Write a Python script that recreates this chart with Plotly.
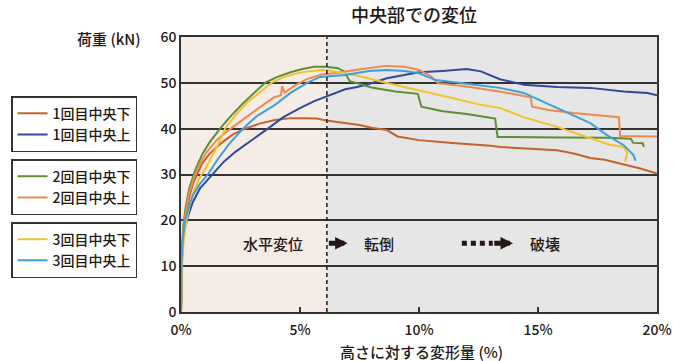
import plotly.graph_objects as go

# ---------------- data ----------------
names = ["1回目中央下", "1回目中央上", "2回目中央下", "2回目中央上", "3回目中央下", "3回目中央上"]
colors = ["#c4642c", "#2f4a9a", "#5a8f32", "#ec8b4f", "#f2c12e", "#3f9fd8"]

x1_lower = [0, 0.02, 0.05, 0.1, 0.2, 0.35, 0.5, 0.67, 0.9, 1.2, 1.5, 1.85, 2.2, 2.7, 3.3, 3.95, 4.6,
            5.2, 5.7, 6.1, 6.9, 7.5, 8.0, 8.65, 9.1, 10.0, 11.4, 12.0, 13.0, 13.4, 14.5, 15.8, 16.5,
            17.2, 17.8, 18.6, 19.3, 20.0]
y1_lower = [0, 8, 13, 17, 21, 25, 28, 30, 32.5, 34.5, 36, 37.5, 38.8, 40, 41.1, 41.9, 42.3,
            42.3, 42.2, 41.8, 41.2, 40.8, 40.2, 39.7, 38.3, 37.5, 36.9, 36.7, 36.3, 36.0, 35.7, 35.3, 34.6,
            33.6, 33.2, 32.2, 31.3, 30.2]

x1_upper = [0, 0.03, 0.08, 0.15, 0.3, 0.5, 0.8, 1.3, 1.8, 2.3, 3.0, 3.65, 4.3, 5.0, 5.6, 6.1, 6.9,
            7.4, 8.0, 8.65, 9.4, 10.0, 11.0, 12.0, 12.6, 13.0, 13.4, 14.4, 15.8, 17.2, 18.6, 19.6, 20.0]
y1_upper = [0, 10, 15, 18, 21, 24, 27, 30, 32.8, 35, 37.5, 40, 42.5, 44.5, 46, 47, 48.6,
            49.1, 49.9, 51, 51.7, 52.3, 52.6, 53.0, 52.5, 51.6, 50.8, 49.6, 49.1, 48.9, 48.1, 47.8, 47.3]

x2_lower = [0, 0.02, 0.05, 0.1, 0.2, 0.35, 0.6, 0.9, 1.2, 1.64, 2.1, 2.6, 3.0, 3.53, 4.0, 4.6, 5.1,
            5.6, 6.1, 6.6, 6.85, 7.1, 7.5, 8.0, 9.0, 9.95, 10.1, 11.0, 12.0, 13.2, 13.3, 14.0, 16.0,
            18.0, 18.9, 19.0, 19.4, 19.45]
y2_lower = [0, 9, 15, 19, 23, 27, 31, 34.5, 37, 40, 42.8, 45.5, 47.5, 50, 51.2, 52.3, 53,
            53.5, 53.5, 53.2, 52.5, 50.3, 49.8, 49.0, 48.1, 47.6, 44.8, 43.8, 43.2, 42.2, 38.2, 38.2, 38.1,
            38.0, 37.8, 36.9, 36.8, 36.0]

x2_upper = [0, 0.02, 0.05, 0.1, 0.2, 0.35, 0.55, 0.8, 1.1, 1.5, 1.9, 2.4, 2.9, 3.4, 3.9, 4.2, 4.25,
            4.35, 4.8, 5.3, 5.9, 6.6, 7.3, 8.6, 9.4, 10.0, 10.5, 10.8, 12.0, 13.0, 13.5, 14.5, 14.7,
            14.75, 15.5, 16.5, 17.5, 18.4, 18.45, 19.0, 20.0]
y2_upper = [0, 9, 14, 18, 22, 26, 29.5, 32.5, 35, 37.5, 39.3, 41.2, 43.2, 45, 46.8, 47.3, 49.3,
            47.8, 49.5, 50.8, 51.8, 52.2, 52.8, 53.7, 53.5, 52.8, 51.5, 49.9, 49.2, 48.5, 48.0, 47.0, 46.8,
            44.8, 44.0, 43.4, 43.0, 42.5, 38.4, 38.4, 38.3]

x3_lower = [0, 0.02, 0.05, 0.1, 0.2, 0.35, 0.55, 0.8, 1.0, 1.3, 1.6, 1.85, 2.3, 2.8, 3.3, 3.8, 4.3,
            4.8, 5.3, 5.9, 6.2, 7.3, 8.6, 10.0, 11.4, 12.5, 13.4, 14.4, 15.8, 17.2, 18.0, 18.6, 18.75,
            18.7, 18.65]
y3_lower = [0, 7, 11, 15, 19, 23, 26.5, 29.5, 31, 34, 37, 40, 43, 45.8, 48, 50, 51.2,
            52, 52.5, 52.8, 52.7, 51.7, 50, 48.4, 46.7, 45.3, 44.5, 42.5, 40.4, 37.9, 36.5, 36, 34.7,
            33.5, 32.8]

x3_upper = [0, 0.01, 0.03, 0.08, 0.15, 0.3, 0.5, 0.8, 1.13, 1.5, 2.0, 2.6, 3.2, 3.95, 4.6, 5.3, 5.84,
            6.9, 7.9, 8.65, 9.4, 10.0, 10.7, 11.4, 12.4, 13.4, 14.4, 15.8, 17.2, 17.9, 18.6, 19.0, 19.1]
y3_upper = [0, 5, 12, 16, 19.5, 22.5, 25.5, 28, 30, 33, 36.5, 40, 42.8, 45.2, 47.8, 50, 51.3,
            51.7, 52.6, 52.8, 52.6, 52.1, 50.6, 50.2, 49.6, 48.9, 47.8, 44.5, 41.2, 38.6, 36.4, 34.3, 33]

series_x = [x1_lower, x1_upper, x2_lower, x2_upper, x3_lower, x3_upper]
series_y = [y1_lower, y1_upper, y2_lower, y2_upper, y3_lower, y3_upper]
legend_ids = ["legend", "legend", "legend2", "legend2", "legend3", "legend3"]

x_ticks = [0, 5, 10, 15, 20]
y_ticks = [0, 10, 20, 30, 40, 50, 60]
boundary_x = 6.13  # 水平変位 / 転倒 boundary (%)

FONT = "Noto Sans CJK JP, Noto Sans, sans-serif"
INK = "#231815"

fig = go.Figure()
for xs, ys, nm, col, lg in zip(series_x, series_y, names, colors, legend_ids):
    fig.add_trace(go.Scatter(x=xs, y=ys, mode="lines", name=nm,
                             line=dict(color=col, width=2), legend=lg))

# background regions
fig.add_shape(type="rect", xref="x", yref="y", x0=0, x1=boundary_x, y0=0, y1=60,
              fillcolor="#f5ece6", line_width=0, layer="below")
fig.add_shape(type="line", xref="x", yref="y", x0=boundary_x, x1=boundary_x, y0=0, y1=60,
              line=dict(color=INK, width=1.5, dash="4px,3px"))

# phase labels
lab_font = dict(size=15, color=INK, family=FONT, weight=500)
fig.add_annotation(x=3.87, y=15, xref="x", yref="y", text="水平変位", showarrow=False, font=lab_font)
fig.add_annotation(x=8.3, y=15, xref="x", yref="y", text="転倒", showarrow=False, font=lab_font)
fig.add_annotation(x=15.3, y=15, xref="x", yref="y", text="破壊", showarrow=False, font=lab_font)
# arrows
fig.add_annotation(x=7.0, y=15, ax=6.15, ay=15, xref="x", yref="y", axref="x", ayref="y",
                   text="", showarrow=True, arrowhead=2, arrowsize=0.5, arrowwidth=5, arrowcolor=INK)
fig.add_shape(type="line", xref="x", yref="y", x0=11.8, x1=13.1, y0=15, y1=15,
              line=dict(color=INK, width=5, dash="5px,4px"))
fig.add_annotation(x=13.95, y=15, ax=13.1, ay=15, xref="x", yref="y", axref="x", ayref="y",
                   text="", showarrow=True, arrowhead=2, arrowsize=0.5, arrowwidth=5, arrowcolor=INK)

# titles
fig.add_annotation(x=0.49, y=1.0, xref="paper", yref="paper", yanchor="bottom", yshift=8,
                   text="中央部での変位", showarrow=False,
                   font=dict(size=18, color=INK, family=FONT, weight=500))
fig.add_annotation(x=-0.08, y=0.996, xref="paper", yref="paper", xanchor="right", yanchor="middle",
                   text="荷重 (kN)", showarrow=False, font=dict(size=15, color=INK, family=FONT, weight=500))
fig.add_annotation(x=0.505, y=0, xref="paper", yref="paper", yanchor="middle", yshift=-39,
                   text="高さに対する変形量 (%)", showarrow=False,
                   font=dict(size=15, color=INK, family=FONT, weight=500))

leg_common = dict(xanchor="left", yanchor="top", bgcolor="white", bordercolor="#333333",
                  borderwidth=1.5, font=dict(size=14, color=INK, family=FONT, weight=500),
                  traceorder="normal")
fig.update_layout(
    width=680, height=361,
    margin=dict(l=181, r=23, t=37, b=49, autoexpand=False),
    paper_bgcolor="white", plot_bgcolor="#e6e6e6",
    showlegend=True,
    legend=dict(x=-0.357, y=0.785, **leg_common),
    legend2=dict(x=-0.357, y=0.556, **leg_common),
    legend3=dict(x=-0.357, y=0.327, **leg_common),
    font=dict(family=FONT, color=INK, size=14),
)
fig.update_xaxes(range=[0, 20], tickvals=x_ticks, ticktext=[f"{v}%" for v in x_ticks],
                 showgrid=False, zeroline=False, showline=True, linecolor="#333333", linewidth=1.5,
                 mirror=True, ticks="inside", ticklen=5, tickcolor="#333333", tickwidth=1.5,
                 ticklabelstandoff=4, tickfont=dict(size=14, color=INK, weight=500))
fig.update_yaxes(range=[0, 60], tickvals=y_ticks, showgrid=True, gridcolor="#333333", gridwidth=1.5,
                 zeroline=False, showline=True, linecolor="#333333", linewidth=1.5, mirror=True,
                 ticks="", tickfont=dict(size=14, color=INK, weight=500))

fig.write_html("out.html", config={"displayModeBar": False},
               post_script="document.body.style.margin='0';")
